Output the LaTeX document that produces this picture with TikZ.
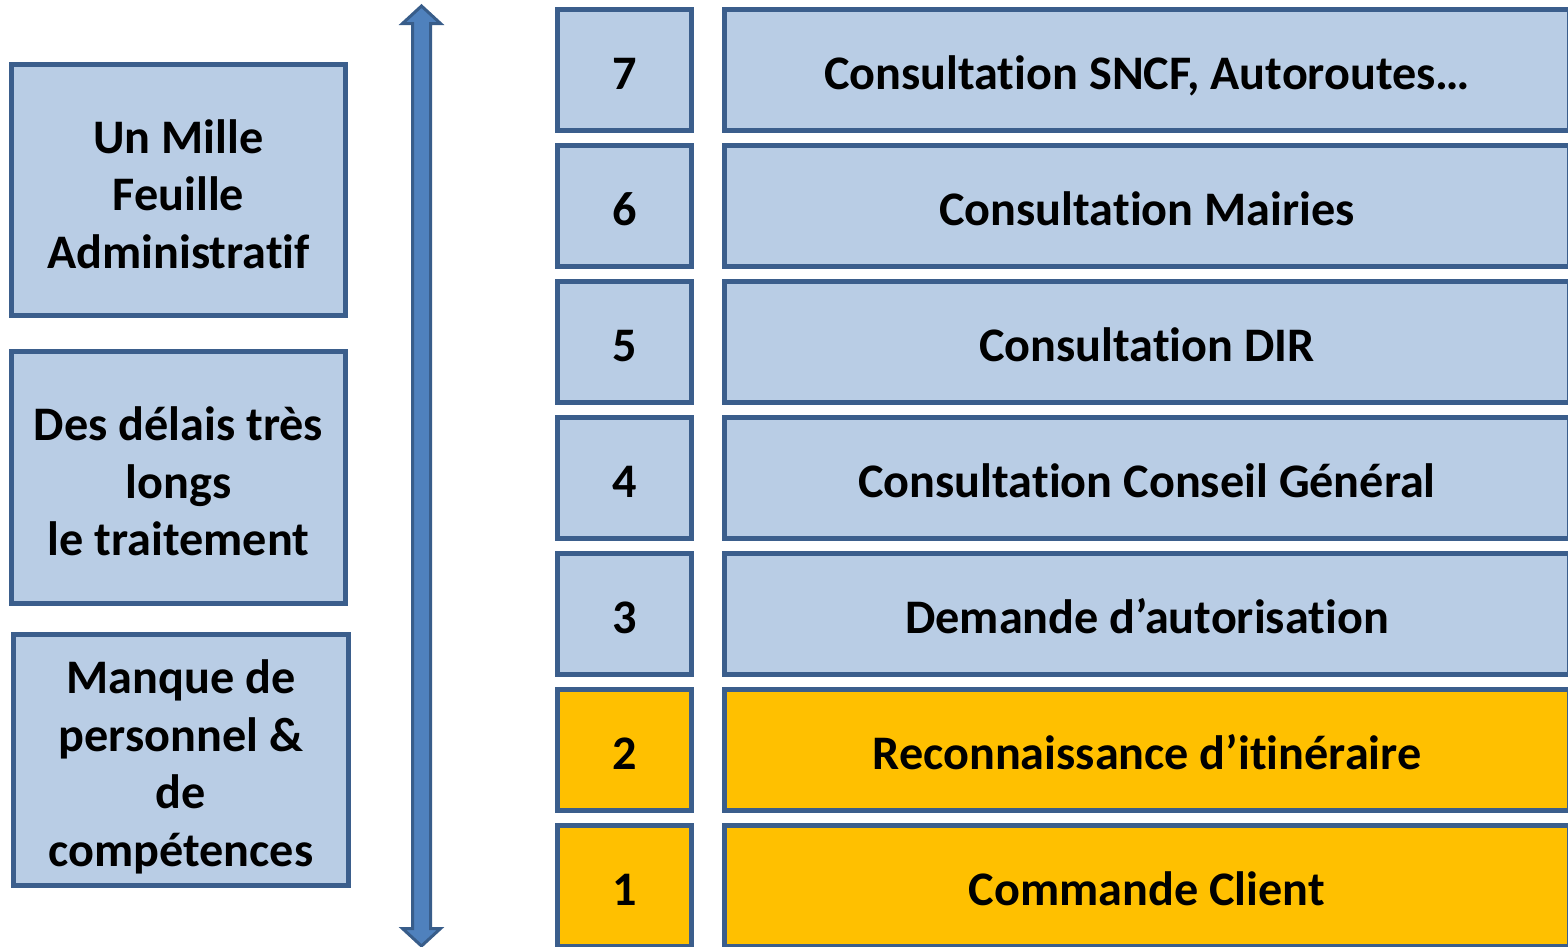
\documentclass[tikz,border=0pt]{standalone}
\usepackage{fontspec}
\setmainfont{Carlito}[Ligatures={NoCommon,NoRequired,NoContextual,NoRare}]
\definecolor{boxfill}{HTML}{B9CDE5}
\definecolor{boxline}{HTML}{3B5E8C}
\definecolor{hotfill}{HTML}{FFC000}
\definecolor{arrowfill}{HTML}{4F81BD}
\definecolor{arrowline}{HTML}{385D8A}
\newcommand\topup[1]{\rule{0pt}{\dimexpr\fontcharht\font`l+#1\relax}}
\newcommand\tI{t\kern0pt i}
\begin{document}
\begin{tikzpicture}[x=1pt,y=-1pt,
  box/.style={draw=boxline, line width=5pt, fill=boxfill, inner sep=0pt,
    font=\fontsize{48.2}{57.5}\selectfont\bfseries, align=center},
  rowbox/.style={box, minimum height=121pt, text height=38pt, text depth=0pt},
  numbox/.style={rowbox, minimum width=134pt},
  widebox/.style={rowbox, minimum width=845pt},
  sidebox/.style={box, minimum width=334pt, minimum height=251pt},
  hot/.style={fill=hotfill}]
\useasboundingbox (0,0) rectangle (1568,946);

% side boxes
\node[sidebox] (s1) at (178.5,190) {\topup{8pt}Un Mille\\Feuille\\Administra\tI f};
\node[sidebox, minimum height=252pt] (s2) at (178.5,477.5) {\topup{8pt}Des délais très\\longs\\le traitement};
\node[sidebox, minimum width=335pt] (s3) at (181,760) {\topup{14pt}Manque de\\personnel \&\\de\\compétences};

% double arrow
\draw[draw=arrowline, fill=arrowfill, line width=3pt, line join=miter]
  (421.5,6) -- (440.5,23.5) -- (430.5,23.5) -- (430.5,928.5) -- (440.5,928.5)
  -- (421.5,946) -- (402.5,928.5) -- (412.5,928.5) -- (412.5,23.5) -- (402.5,23.5) -- cycle;

% rows
\node[numbox] (n7) at (624.5,70) {7};
\node[widebox] (r7) at (1147,70) {Consulta\tI on SNCF, Autoroutes…};
\node[numbox] (n6) at (624.5,206) {6};
\node[widebox] (r6) at (1147,206) {Consulta\tI on Mairies};
\node[numbox] (n5) at (624.5,342) {5};
\node[widebox] (r5) at (1147,342) {Consulta\tI on DIR};
\node[numbox] (n4) at (624.5,478) {4};
\node[widebox] (r4) at (1147,478) {Consulta\tI on Conseil Général};
\node[numbox] (n3) at (624.5,614) {3};
\node[widebox] (r3) at (1147,614) {Demande d’autorisa\tI on};
\node[numbox, hot] (n2) at (624.5,750) {2};
\node[widebox, hot] (r2) at (1147,750) {Reconnaissance d’i\tI néraire};
\node[numbox, hot] (n1) at (624.5,886) {1};
\node[widebox, hot] (r1) at (1147,886) {Commande Client};
\end{tikzpicture}
\end{document}
